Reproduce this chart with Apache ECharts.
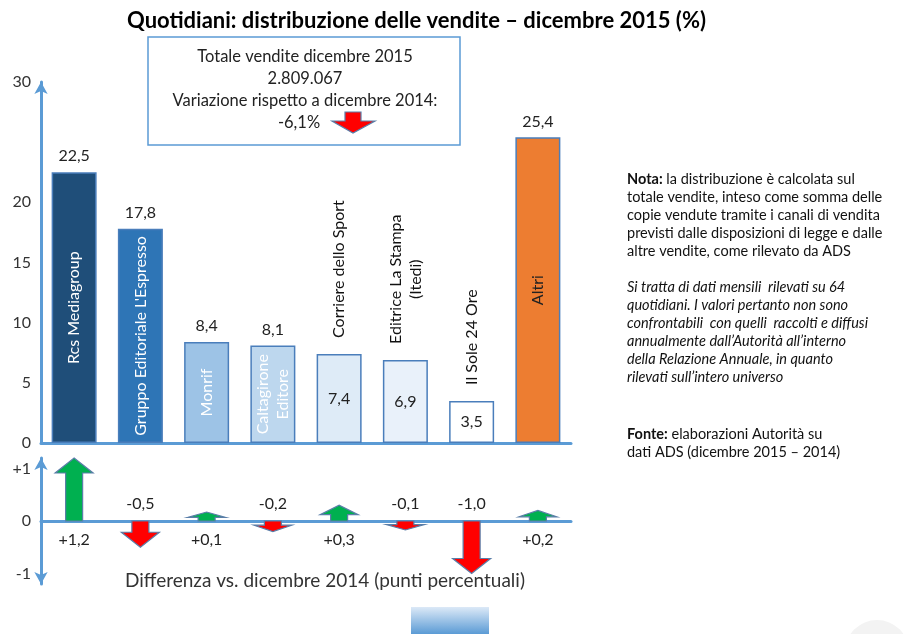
<!DOCTYPE html>
<html>
<head>
<meta charset="utf-8">
<script src="https://cdn.jsdelivr.net/npm/echarts@6/dist/echarts.min.js"></script>
<style>
  html, body { margin: 0; padding: 0; background: #fff; }
  #chart { width: 913px; height: 634px; }
</style>
</head>
<body>
<div id="chart"></div>
<script>
// quote di vendita dicembre 2015 (%)
const categories = ['Rcs Mediagroup', "Gruppo Editoriale L'Espresso", 'Monrif', 'Caltagirone\nEditore',
  'Corriere dello Sport', 'Editrice La Stampa\n(Itedi)', 'Il Sole 24 Ore', 'Altri'];
const shares = [22.5, 17.8, 8.4, 8.1, 7.4, 6.9, 3.5, 25.4];
// differenza vs dicembre 2014 (punti percentuali)
const diffs = [1.2, -0.5, 0.1, -0.2, 0.3, -0.1, -1.0, 0.2];
const shareTicks = [0, 5, 10, 15, 20, 30];
const diffTicks = [-1, 0, 1];
const totalSales = '2.809.067';
const totalChange = -6.1;

const barColors = ['#1f4e79', '#2e75b6', '#9dc3e6', '#bdd7ee', '#deebf7', '#e9f1fa', '#ffffff', '#ed7d31'];
const FONT = 'Lato, "Open Sans", sans-serif';

const ctx = document.createElement('canvas').getContext('2d');
function textW(str, size) {
  ctx.font = size + 'px ' + FONT;
  return Math.max(...str.split('\n').map(s => ctx.measureText(s).width));
}
function fmt(v, sign) {
  const s = v.toFixed(1).replace('.', ',');
  return sign && v > 0 ? '+' + s : s;
}

const chart = echarts.init(document.getElementById('chart'));

const barData = shares.map((v, i) => ({
  value: v,
  itemStyle: { color: barColors[i] },
  label: v >= 8 ? { position: 'top', distance: 8 } : { position: 'inside' }
}));

const nameData = shares.map((v, i) => ({
  value: v,
  label: v >= 8
    ? { position: 'inside', color: i === 7 ? '#222' : '#fff' }
    : { position: 'top', align: 'center', verticalAlign: 'middle', distance: 16 + textW(categories[i], 16) / 2, color: '#111' }
}));

function renderArrow(params, api) {
  const i = api.value(0), v = api.value(1);
  const base = api.coord([i, 0]);
  const end = api.coord([i, v]);
  const dir = v >= 0 ? -1 : 1;
  const len = Math.max(Math.abs(end[1] - base[1]), 9);
  const head = Math.min(15, len * 0.6);
  const sw = 8.5, hw = 19;
  const x = base[0], y0 = base[1];
  const yh = y0 + dir * (len - head), yt = y0 + dir * len;
  const pts = [[x - sw, y0], [x - sw, yh], [x - hw, yh], [x, yt], [x + hw, yh], [x + sw, yh], [x + sw, y0]];
  return {
    type: 'group',
    children: [
      { type: 'polygon', shape: { points: pts },
        style: { fill: v >= 0 ? '#00b050' : '#ff0000', stroke: '#5a7ea8', lineWidth: 1.2 } },
      { type: 'text', x: x, y: y0 + (v >= 0 ? 19 : -17),
        style: { text: fmt(v, true), fontSize: 16, fill: '#222', align: 'center', verticalAlign: 'middle', fontFamily: FONT } }
    ]
  };
}

const option = {
  animation: false,
  textStyle: { fontFamily: FONT },
  title: {
    text: 'Quotidiani: distribuzione delle vendite – dicembre 2015 (%)',
    left: 122, top: 5,
    textStyle: { fontSize: 22, fontWeight: 'bold', color: '#000', fontFamily: FONT }
  },
  grid: [
    { left: 41, right: 342, top: 82, bottom: 191 },
    { left: 41, right: 342, top: 458, height: 126 }
  ],
  xAxis: [
    {
      type: 'category', gridIndex: 0, data: categories,
      axisLine: { lineStyle: { color: '#5b9bd5', width: 3 } },
      axisTick: { show: false }, axisLabel: { show: false }
    },
    {
      type: 'category', gridIndex: 1, data: categories,
      axisLine: { onZero: true, lineStyle: { color: '#5b9bd5', width: 3 } },
      axisTick: { show: false }, axisLabel: { show: false }
    }
  ],
  yAxis: [
    {
      type: 'value', gridIndex: 0, min: 0, max: 30,
      axisLine: { show: true, symbol: ['none', 'arrow'], symbolSize: [10, 12], lineStyle: { color: '#5b9bd5', width: 3 } },
      axisTick: { show: false },
      splitLine: { show: false },
      axisLabel: { customValues: shareTicks, fontSize: 16, color: '#333', margin: 10 }
    },
    {
      type: 'value', gridIndex: 1, min: -1.2, max: 1.2,
      axisLine: { show: true, symbol: ['arrow', 'arrow'], symbolSize: [10, 12], lineStyle: { color: '#5b9bd5', width: 3 } },
      axisTick: { show: false },
      splitLine: { show: false },
      axisLabel: { customValues: diffTicks, fontSize: 16, color: '#333', margin: 10,
        formatter: v => (v > 0 ? '+' + v : String(v)) }
    }
  ],
  series: [
    {
      type: 'bar', xAxisIndex: 0, yAxisIndex: 0, barWidth: 45, data: barData,
      itemStyle: { borderColor: '#4a7ebb', borderWidth: 1.5 },
      label: { show: true, fontSize: 16, color: '#222', formatter: p => fmt(p.value) },
      silent: true
    },
    {
      type: 'bar', xAxisIndex: 0, yAxisIndex: 0, barWidth: 45, barGap: '-100%', data: nameData,
      itemStyle: { color: 'transparent' },
      label: { show: true, rotate: 90, fontSize: 16, lineHeight: 20, formatter: p => categories[p.dataIndex] },
      silent: true, z: 3
    },
    {
      type: 'custom', xAxisIndex: 1, yAxisIndex: 1,
      data: diffs.map((d, i) => [i, d]),
      encode: { x: 0, y: 1 },
      renderItem: renderArrow,
      silent: true, z: 1
    }
  ],
  graphic: [
    { type: 'rect', shape: { x: 148, y: 37, width: 312, height: 108 },
      style: { fill: '#fff', stroke: '#5b9bd5', lineWidth: 1.5 }, z: 10 },
    { type: 'text', x: 305, y: 57, z: 11,
      style: { text: 'Totale vendite dicembre 2015', fontSize: 16.5, fill: '#222', align: 'center', verticalAlign: 'middle', fontFamily: FONT } },
    { type: 'text', x: 305, y: 79, z: 11,
      style: { text: totalSales, fontSize: 16.5, fill: '#222', align: 'center', verticalAlign: 'middle', fontFamily: FONT } },
    { type: 'text', x: 305, y: 101, z: 11,
      style: { text: 'Variazione rispetto a dicembre 2014:', fontSize: 16.5, fill: '#222', align: 'center', verticalAlign: 'middle', fontFamily: FONT } },
    { type: 'text', x: 299, y: 123, z: 11,
      style: { text: fmt(totalChange) + '%', fontSize: 16.5, fill: '#222', align: 'center', verticalAlign: 'middle', fontFamily: FONT } },
    { type: 'polygon', z: 11,
      shape: { points: [[345, 112], [345, 121], [332, 121], [353, 133], [375, 121], [361, 121], [361, 112]] },
      style: { fill: '#ff0000', stroke: '#5a7ea8', lineWidth: 1.2 } },
    { type: 'text', x: 325, y: 581,
      style: { text: 'Differenza vs. dicembre 2014 (punti percentuali)', fontSize: 19, fill: '#333', align: 'center', verticalAlign: 'middle', fontFamily: FONT } },
    { type: 'text', x: 627, y: 170,
      style: {
        text: '{b|Nota:} la distribuzione è calcolata sul\ntotale vendite, inteso come somma delle\ncopie vendute tramite i canali di vendita\nprevisti dalle disposizioni di legge e dalle\naltre vendite, come rilevato da ADS',
        fontSize: 14.5, lineHeight: 18, fill: '#111', fontFamily: FONT,
        rich: { b: { fontWeight: 'bold', fontSize: 14.5, lineHeight: 18, fontFamily: FONT } }
      } },
    { type: 'text', x: 627, y: 278,
      style: {
        text: 'Si tratta di dati mensili  rilevati su 64\nquotidiani. I valori pertanto non sono\nconfrontabili  con quelli  raccolti e diffusi\nannualmente dall’Autorità all’interno\ndella Relazione Annuale, in quanto\nrilevati sull’intero universo',
        fontSize: 14.5, lineHeight: 18, fontStyle: 'italic', fill: '#111', fontFamily: FONT
      } },
    { type: 'text', x: 627, y: 425,
      style: {
        text: '{b|Fonte:} elaborazioni Autorità su\ndati ADS (dicembre 2015 – 2014)',
        fontSize: 14.5, lineHeight: 18, fill: '#111', fontFamily: FONT,
        rich: { b: { fontWeight: 'bold', fontSize: 14.5, lineHeight: 18, fontFamily: FONT } }
      } },
    { type: 'rect', shape: { x: 411, y: 607, width: 78, height: 27 },
      style: { fill: new echarts.graphic.LinearGradient(0, 0, 0, 1, [
        { offset: 0, color: '#dce9f7' }, { offset: 1, color: '#5b9bd5' }]) } },
    { type: 'circle', shape: { cx: 877, cy: 652, r: 32 }, style: { fill: '#f3f3f3' } }
  ]
};

chart.setOption(option);
</script>
</body>
</html>
